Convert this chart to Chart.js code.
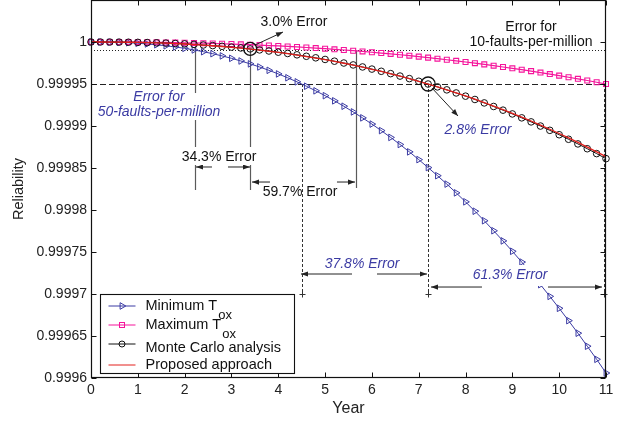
<!DOCTYPE html>
<html><head><meta charset="utf-8">
<script src="https://cdn.jsdelivr.net/npm/chart.js@4.4.1/dist/chart.umd.min.js"></script>
<style>html,body{margin:0;padding:0;background:#fff;overflow:hidden}</style>
</head><body>
<canvas id="c" width="621" height="421"></canvas>
<script>
// ---------- data ----------
const years = [0,0.2,0.4,0.6,0.8,1,1.2,1.4,1.6,1.8,2,2.2,2.4,2.6,2.8,3,3.2,3.4,3.6,3.8,4,4.2,4.4,4.6,4.8,5,5.2,5.4,5.6,5.8,6,6.2,6.4,6.6,6.8,7,7.2,7.4,7.6,7.8,8,8.2,8.4,8.6,8.8,9,9.2,9.4,9.6,9.8,10,10.2,10.4,10.6,10.8,11];
const minTox = [1,0.99999997,0.99999982,0.99999954,0.99999911,0.99999850,0.99999770,0.99999671,0.99999551,0.99999409,0.99999244,0.99999056,0.99998844,0.99998607,0.99998345,0.99998056,0.99997740,0.99997398,0.99997027,0.99996628,0.99996200,0.99995742,0.99995255,0.99994736,0.99994188,0.99993609,0.99992996,0.99992354,0.99991678,0.99990968,0.99990227,0.99989450,0.99988640,0.99987800,0.99986920,0.99986000,0.99985050,0.99984085,0.99983082,0.99982041,0.99980972,0.99979856,0.99978722,0.99977530,0.99976321,0.99975084,0.99973801,0.99972470,0.99971112,0.99969718,0.99968296,0.99966828,0.99965334,0.99963783,0.99962225,0.99960592];
const maxTox = [1,0.99999999,0.99999998,0.99999994,0.99999989,0.99999981,0.99999971,0.99999959,0.99999944,0.99999926,0.99999906,0.99999882,0.99999856,0.99999826,0.99999794,0.99999758,0.99999718,0.99999676,0.99999630,0.99999580,0.99999527,0.99999470,0.99999409,0.99999344,0.99999276,0.99999204,0.99999127,0.99999047,0.99998963,0.99998875,0.99998782,0.99998685,0.99998585,0.99998480,0.99998370,0.99998256,0.99998137,0.99998015,0.99997888,0.99997756,0.99997620,0.99997478,0.99997334,0.99997181,0.99997027,0.99996869,0.99996704,0.99996534,0.99996359,0.99996180,0.99995997,0.99995807,0.99995614,0.99995413,0.99995212,0.99995000];
const monteCarlo = [1,0.99999999,0.99999995,0.99999987,0.99999975,0.99999957,0.99999933,0.99999903,0.99999867,0.99999823,0.99999772,0.99999713,0.99999646,0.99999570,0.99999486,0.99999394,0.99999291,0.99999180,0.99999059,0.99998928,0.99998787,0.99998635,0.99998474,0.99998300,0.99998117,0.99997923,0.99997716,0.99997499,0.99997270,0.99997029,0.99996776,0.99996512,0.99996234,0.99995944,0.99995642,0.99995327,0.99994998,0.99994657,0.99994303,0.99993935,0.99993553,0.99993158,0.99992748,0.99992324,0.99991886,0.99991437,0.99990970,0.99990490,0.99989995,0.99989485,0.99988961,0.99988421,0.99987867,0.99987295,0.99986713,0.99986112];
const proposed = [1,0.99999999,0.99999995,0.99999986,0.99999973,0.99999954,0.99999928,0.99999897,0.99999858,0.99999813,0.99999760,0.99999699,0.99999630,0.99999552,0.99999466,0.99999372,0.99999268,0.99999155,0.99999033,0.99998900,0.99998758,0.99998605,0.99998443,0.99998269,0.99998087,0.99997892,0.99997686,0.99997469,0.99997243,0.99997002,0.99996753,0.99996491,0.99996215,0.99995928,0.99995633,0.99995322,0.99994998,0.99994662,0.99994314,0.99993953,0.99993579,0.99993192,0.99992792,0.99992378,0.99991951,0.99991514,0.99991060,0.99990595,0.99990105,0.99989611,0.99989105,0.99988583,0.99988049,0.99987486,0.99986926,0.99986348];
const xTickValues = [0,1,2,3,4,5,6,7,8,9,10,11];
const yTickValues = [0.9996,0.99965,0.9997,0.99975,0.9998,0.99985,0.9999,0.99995,1];
const yTickLabels = ['0.9996','0.99965','0.9997','0.99975','0.9998','0.99985','0.9999','0.99995','1'];
const limit10 = 0.99999;   // 10 faults per million
const limit50 = 0.99995;   // 50 faults per million
const legendLabels = [['Minimum T','ox'],['Maximum T','ox'],['Monte Carlo analysis',''],['Proposed approach','']];

// ---------- styles ----------
const FONT = '"Liberation Sans", Arial, Helvetica, sans-serif';
const BLUE = '#3b3ba3', PINK = '#f5159b', RED = '#e3201c', BLACK = '#111';

// annotation layout (data coordinates)
const solidGuides = [ {x:2.22, y1:1.0, y2:0.9998238}, {x:3.4, y1:0.9999918, y2:0.9998238}, {x:5.65, y1:0.99999, y2:0.9998262} ];
const dashedGuides = [4.5, 7.2, 10.95];
const arrows = [
  [3.503,0.9999964,4.101,1.0000119],
  [7.283,0.9999452,7.839,0.9999119],
  [2.584,0.9998512,2.243,0.9998512],[2.926,0.9998512,3.396,0.9998512],
  [3.823,0.9998333,3.439,0.9998333],[5.254,0.9998333,5.639,0.9998333],
  [5.575,0.9997238,4.485,0.9997238],[6.109,0.9997238,7.177,0.9997238],
  [8.351,0.9997083,7.262,0.9997083],[9.761,0.9997083,10.914,0.9997083]
];
const bigCircles = [ {x:3.4, y:0.9999918, r:6.5}, {x:7.2, y:0.99995, r:7} ];
const notes = [
  {t:['3.0% Error'], x:4.336, y:1.0000238, c:BLACK, it:false},
  {t:['Error for','10-faults-per-million'], x:9.398, y:1.0000179, c:BLACK, it:false},
  {t:['Error for','50-faults-per-million'], x:1.452, y:0.9999345, c:BLUE, it:true, bg:[4,8]},
  {t:['34.3% Error'], x:2.734, y:0.9998631, c:BLACK, it:false, bg:[10,8]},
  {t:['59.7% Error'], x:4.464, y:0.9998214, c:BLACK, it:false},
  {t:['2.8% Error'], x:8.266, y:0.9998952, c:BLUE, it:true},
  {t:['37.8% Error'], x:5.788, y:0.9997357, c:BLUE, it:true},
  {t:['61.3% Error'], x:8.949, y:0.9997226, c:BLUE, it:true, bg:[10,11]}
];

function pts(arr){ return years.map((x,i)=>({x:x, y:arr[i]})); }
function seg(ctx,x1,y1,x2,y2){ ctx.beginPath(); ctx.moveTo(x1,y1); ctx.lineTo(x2,y2); ctx.stroke(); }
function arrowLine(ctx,x1,y1,x2,y2){
  seg(ctx,x1,y1,x2,y2);
  const a=Math.atan2(y2-y1,x2-x1), L=7, W=2.6;
  ctx.beginPath(); ctx.moveTo(x2,y2);
  ctx.lineTo(x2-L*Math.cos(a)+W*Math.sin(a), y2-L*Math.sin(a)-W*Math.cos(a));
  ctx.lineTo(x2-L*Math.cos(a)-W*Math.sin(a), y2-L*Math.sin(a)+W*Math.cos(a));
  ctx.closePath(); ctx.fill();
}
function tri(ctx,x,y,r){ ctx.beginPath(); ctx.moveTo(x+r,y); ctx.lineTo(x-r*0.5,y-r*0.87); ctx.lineTo(x-r*0.5,y+r*0.87); ctx.closePath(); ctx.stroke(); }

const annotations = {
  id:'annotations',
  beforeDatasetsDraw(chart){
    const {ctx, scales:{x,y}} = chart;
    const X=v=>x.getPixelForValue(v), Y=v=>y.getPixelForValue(v);
    ctx.save();
    ctx.lineWidth=1; ctx.strokeStyle='#222';
    ctx.setLineDash([1,2]);
    let py=Math.round(Y(limit10))+0.5; seg(ctx,X(0),py,X(11),py);
    ctx.setLineDash([6,3]);
    py=Math.round(Y(limit50))+0.5; seg(ctx,X(0),py,X(11),py);
    ctx.setLineDash([]); ctx.strokeStyle='#5a5a5a'; ctx.lineWidth=1.2;
    solidGuides.forEach(g=>{ const px=Math.round(X(g.x))+0.5; seg(ctx,px,Y(g.y1),px,Y(g.y2)); });
    ctx.setLineDash([3,2]); ctx.strokeStyle='#333'; ctx.lineWidth=1;
    dashedGuides.forEach(v=>{ const px=Math.round(X(v))+0.5; seg(ctx,px,Y(limit50),px,Y(0.9997)); });
    ctx.setLineDash([]);
    dashedGuides.forEach(v=>{ const px=Math.round(X(v))+0.5, p2=Math.round(Y(0.9997))+0.5; seg(ctx,px-3,p2,px+3,p2); seg(ctx,px,p2-3,px,p2+3); });
    ctx.restore();
  },
  afterDatasetsDraw(chart){
    const {ctx, scales:{x,y}} = chart;
    const X=v=>x.getPixelForValue(v), Y=v=>y.getPixelForValue(v);
    ctx.save();
    ctx.strokeStyle='#222'; ctx.fillStyle='#222'; ctx.lineWidth=1;
    arrows.forEach(a=>arrowLine(ctx,X(a[0]),Y(a[1]),X(a[2]),Y(a[3])));
    ctx.strokeStyle='#111'; ctx.lineWidth=1.3;
    bigCircles.forEach(c=>{ ctx.beginPath(); ctx.arc(X(c.x),Y(c.y),c.r,0,Math.PI*2); ctx.stroke(); });
    ctx.textAlign='center'; ctx.textBaseline='middle';
    notes.forEach(n=>{
      ctx.font=(n.it?'italic ':'')+'14px '+FONT;
      const cx=X(n.x), cy=Y(n.y), lh=15;
      if(n.bg){
        const w=Math.max(...n.t.map(s=>ctx.measureText(s).width));
        ctx.fillStyle='#fff';
        ctx.fillRect(cx-w/2-2, cy-n.bg[0], w+4, lh*(n.t.length-1)+n.bg[0]+n.bg[1]);
      }
      ctx.fillStyle=n.c;
      n.t.forEach((s,i)=>ctx.fillText(s,cx,cy+i*lh));
    });
    ctx.restore();
  },
  afterDraw(chart){
    const {ctx, chartArea:ca, scales:{x,y}} = chart;
    ctx.save();
    // frame and inward ticks
    ctx.strokeStyle='#111'; ctx.lineWidth=1.2;
    const L=Math.round(ca.left)+0.5, R=Math.round(ca.right)-0.5, T=Math.round(ca.top)+0.5, B=Math.round(ca.bottom)-0.5;
    ctx.strokeRect(L,T,R-L,B-T);
    ctx.lineWidth=1;
    xTickValues.forEach(v=>{ const px=Math.round(x.getPixelForValue(v))+0.5; seg(ctx,px,B,px,B-5); seg(ctx,px,T,px,T+5); });
    yTickValues.forEach(v=>{ const py=Math.round(y.getPixelForValue(v))+0.5; seg(ctx,L,py,L+5,py); seg(ctx,R,py,R-5,py); });
    // legend
    const bx=ca.left+9.5, by=ca.bottom-83.5, bw=194, bh=79;
    ctx.fillStyle='#fff'; ctx.fillRect(bx,by,bw,bh);
    ctx.strokeStyle='#111'; ctx.lineWidth=1.1; ctx.strokeRect(bx,by,bw,bh);
    const lineY=[11.5,30.5,49.5,70.5], textY=[11.5,30,53,70];
    const cols=[BLUE,PINK,BLACK,RED];
    const x1=bx+8, x2=bx+35, xm=(x1+x2)/2, tx=bx+45;
    for(let i=0;i<4;i++){
      const ly=by+lineY[i];
      ctx.strokeStyle=cols[i]; ctx.lineWidth=1; seg(ctx,x1,ly,x2,ly);
      if(i===0) tri(ctx,xm,ly,3.8);
      if(i===1) ctx.strokeRect(xm-2.5,ly-2.5,5,5);
      if(i===2){ ctx.beginPath(); ctx.arc(xm,ly,3,0,Math.PI*2); ctx.stroke(); }
      ctx.fillStyle='#111'; ctx.textAlign='left'; ctx.textBaseline='middle';
      ctx.font='14.5px '+FONT;
      const [main,sub]=legendLabels[i];
      ctx.fillText(main,tx,by+textY[i]);
      if(sub){ const w=ctx.measureText(main).width; ctx.font='13px '+FONT; ctx.fillText(sub,tx+w+1,by+textY[i]+9.5); }
    }
    ctx.restore();
  }
};

Chart.defaults.font.family = FONT;
new Chart(document.getElementById('c').getContext('2d'), {
  type:'line',
  data:{ datasets:[
    {label:'Proposed approach', data:pts(proposed), borderColor:RED, borderWidth:1.3, pointRadius:0, tension:0, order:0, clip:false},
    {label:'Monte Carlo analysis', data:pts(monteCarlo), borderColor:BLACK, borderWidth:1, pointStyle:'circle', pointRadius:3.3, pointBorderColor:BLACK, pointBackgroundColor:'rgba(0,0,0,0)', pointBorderWidth:1, tension:0, order:1, clip:false},
    {label:'Maximum Tox', data:pts(maxTox), borderColor:PINK, borderWidth:1.2, pointStyle:'rect', pointRadius:3.5, pointBorderColor:PINK, pointBackgroundColor:'rgba(0,0,0,0)', pointBorderWidth:1.1, tension:0, order:2, clip:false},
    {label:'Minimum Tox', data:pts(minTox), borderColor:BLUE, borderWidth:1, pointStyle:'triangle', pointRotation:90, pointRadius:3.8, pointBorderColor:BLUE, pointBackgroundColor:'rgba(0,0,0,0)', pointBorderWidth:1, tension:0, order:3, clip:false}
  ]},
  options:{
    responsive:false, animation:false, devicePixelRatio:1,
    layout:{autoPadding:false, padding:{left:0,right:15,top:0,bottom:0}},
    plugins:{legend:{display:false}, tooltip:{enabled:false}},
    scales:{
      x:{ type:'linear', min:0, max:11,
        grid:{display:false, drawTicks:false}, border:{display:false},
        afterBuildTicks:s=>{ s.ticks = xTickValues.map(v=>({value:v})); },
        afterFit:s=>{ s.height=43; s.paddingLeft=0; s.paddingRight=0; s.paddingTop=0; s.paddingBottom=0; },
        ticks:{ padding:4, color:'#222', font:{size:14}, maxRotation:0, autoSkip:false, callback:v=>String(v) },
        title:{ display:true, text:'Year', color:'#222', font:{size:16}, padding:{top:0,bottom:3} } },
      y:{ type:'linear', min:0.9996, max:1.00005,
        grid:{display:false, drawTicks:false}, border:{display:false},
        afterBuildTicks:s=>{ s.ticks = yTickValues.map(v=>({value:v})); },
        afterFit:s=>{ s.width=91; s.paddingTop=0; s.paddingBottom=0; s.paddingLeft=0; s.paddingRight=0; },
        ticks:{ padding:4, color:'#222', font:{size:14}, autoSkip:false, callback:(v,i)=>yTickLabels[i] },
        title:{ display:true, text:'Reliability', color:'#222', font:{size:14.5}, padding:{top:10,bottom:0} } }
    }
  },
  plugins:[annotations]
});
</script>
</body></html>
